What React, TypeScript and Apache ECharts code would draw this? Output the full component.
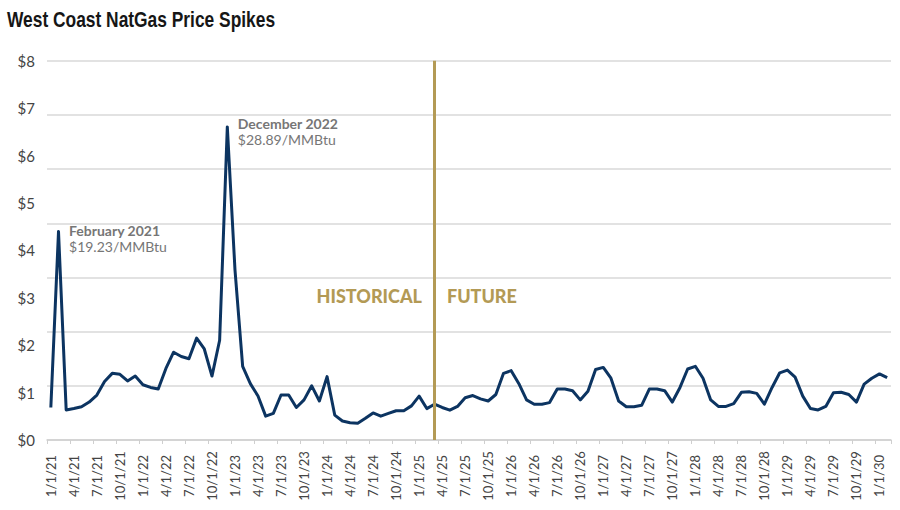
import React, { useEffect, useRef } from "react";
import * as echarts from "echarts";

// Monthly prices, $/MMBtu (Jan 2021 .. Feb 2030)
const prices2021 = [3.0, 19.23, 2.77, 2.9, 3.07, 3.5, 4.15, 5.4, 6.15, 6.06, 5.45, 5.9];
const prices2022 = [5.1, 4.85, 4.7, 6.6, 8.1, 7.7, 7.5, 9.4, 8.4, 5.9, 9.2, 28.89];
const prices2023 = [15.7, 6.8, 5.2, 4.06, 2.2, 2.45, 4.15, 4.15, 3.0, 3.7, 5.0, 3.6];
const prices2024 = [5.85, 2.3, 1.75, 1.6, 1.55, 2.0, 2.5, 2.2, 2.45, 2.7, 2.7, 3.15];
const prices2025 = [4.05, 2.9, 3.3, 3.0, 2.75, 3.1, 3.9, 4.1, 3.8, 3.6, 4.2, 6.15];
const prices2026 = [6.4, 5.2, 3.7, 3.3, 3.3, 3.45, 4.7, 4.7, 4.55, 3.7, 4.5, 6.5];
const prices2027 = [6.7, 5.7, 3.6, 3.07, 3.07, 3.2, 4.7, 4.7, 4.55, 3.5, 4.85, 6.55];
const prices2028 = [6.8, 5.7, 3.7, 3.1, 3.1, 3.35, 4.4, 4.45, 4.3, 3.3, 4.85, 6.2];
const prices2029 = [6.45, 5.8, 4.05, 2.9, 2.77, 3.1, 4.35, 4.4, 4.2, 3.5, 5.15, 5.7];
const prices2030 = [6.1, 5.75];

const years = [21, 22, 23, 24, 25, 26, 27, 28, 29, 30];
const yearPrices = [prices2021, prices2022, prices2023, prices2024, prices2025, prices2026, prices2027, prices2028, prices2029, prices2030];

// Tick labels shown on the left (as printed in the original)
const yTickLabels = ["$0", "$1", "$2", "$3", "$4", "$5", "$6", "$7", "$8"];

const titleText = "West Coast NatGas Price Spikes";
const annotationFeb = { title: "February 2021", sub: "$19.23/MMBtu", index: 1 };
const annotationDec = { title: "December 2022", sub: "$28.89/MMBtu", index: 23 };
const splitIndex = 50; // 3/1/25
const splitLabelLeft = "HISTORICAL";
const splitLabelRight = "FUTURE";

const categories: string[] = [];
const values: number[] = [];
yearPrices.forEach((arr, yi) => {
  arr.forEach((v, mi) => {
    categories.push(`${mi + 1}/1/${years[yi]}`);
    values.push(v);
  });
});

const NAVY = "#0c3461";
const GOLD = "#b39a55";
const FONT = "Lato, 'Liberation Sans', sans-serif";

export default function App() {
  const ref = useRef<HTMLDivElement>(null);
  useEffect(() => {
    document.body.style.margin = "0";
    const chart = echarts.init(ref.current!, undefined, { renderer: "svg" });
    chart.setOption({
      animation: false,
      backgroundColor: "#ffffff",
      graphic: [
        {
          type: "text",
          x: 7,
          y: 8,
          scaleX: 0.79,
          scaleY: 1,
          style: {
            text: titleText,
            fontFamily: "'Liberation Sans', Arial, sans-serif",
            fontWeight: "bold",
            fontSize: 22,
            fill: "#161616",
            textAlign: "left",
            textVerticalAlign: "top",
          },
        },
      ],
      grid: { left: 47, right: 9, top: 60.7, bottom: 70 },
      xAxis: {
        type: "category",
        data: categories,
        boundaryGap: true,
        axisLine: { show: true, lineStyle: { color: "#cfcfcf", width: 1.5 } },
        axisTick: { show: true, interval: 2, length: 4, lineStyle: { color: "#cfcfcf", width: 1 } },
        axisLabel: {
          interval: 2,
          rotate: 90,
          align: "center",
          verticalAlign: "middle",
          margin: 36,
          fontFamily: FONT,
          fontSize: 13,
          color: "#444444",
        },
      },
      yAxis: [
        {
          type: "value",
          min: 0,
          max: 35,
          interval: 5,
          axisLabel: { show: false },
          axisLine: { show: false },
          axisTick: { show: false },
          splitLine: { show: true, lineStyle: { color: "#d9d9d9", width: 1.5 } },
        },
        {
          type: "value",
          position: "left",
          offset: 0,
          min: 0,
          max: 8,
          interval: 1,
          axisLine: { show: false },
          axisTick: { show: false },
          splitLine: { show: false },
          axisLabel: {
            formatter: (v: number) => yTickLabels[Math.round(v)],
            margin: 12,
            fontFamily: FONT,
            fontSize: 15,
            color: "#444444",
          },
        },
      ],
      series: [
        {
          type: "line",
          data: values,
          yAxisIndex: 0,
          showSymbol: false,
          symbol: "none",
          lineStyle: { color: NAVY, width: 3, join: "round" },
          itemStyle: { color: NAVY },
          markLine: {
            silent: true,
            symbol: ["none", "none"],
            label: { show: false },
            lineStyle: { color: GOLD, width: 3, type: "solid" },
            data: [{ xAxis: categories[splitIndex] }],
          },
          markPoint: {
            silent: true,
            symbol: "circle",
            symbolSize: 1,
            itemStyle: { color: "rgba(0,0,0,0)" },
            label: {
              show: true,
              fontFamily: FONT,
              rich: {
                b: { fontFamily: FONT, fontWeight: "bold", fontSize: 14, color: "#767676", lineHeight: 16 },
                r: { fontFamily: FONT, fontSize: 14, color: "#767676", lineHeight: 16 },
              },
            },
            data: [
              {
                coord: [categories[annotationFeb.index], values[annotationFeb.index]],
                label: {
                  position: "right",
                  distance: 10,
                  offset: [0, 7],
                  formatter: `{b|${annotationFeb.title}}\n{r|${annotationFeb.sub}}`,
                },
              },
              {
                coord: [categories[annotationDec.index], values[annotationDec.index]],
                label: {
                  position: "right",
                  distance: 10,
                  offset: [0, 5],
                  formatter: `{b|${annotationDec.title}}\n{r|${annotationDec.sub}}`,
                },
              },
              {
                coord: [categories[splitIndex], 13.3],
                label: {
                  position: "left",
                  distance: 12,
                  formatter: splitLabelLeft,
                  fontFamily: FONT,
                  fontWeight: 900,
                  fontSize: 18,
                  color: GOLD,
                },
              },
              {
                coord: [categories[splitIndex], 13.3],
                label: {
                  position: "right",
                  distance: 12,
                  formatter: splitLabelRight,
                  fontFamily: FONT,
                  fontWeight: 900,
                  fontSize: 18,
                  color: GOLD,
                },
              },
            ],
          },
        },
      ],
    });
    return () => chart.dispose();
  }, []);
  return <div ref={ref} style={{ width: 900, height: 510 }} />;
}
